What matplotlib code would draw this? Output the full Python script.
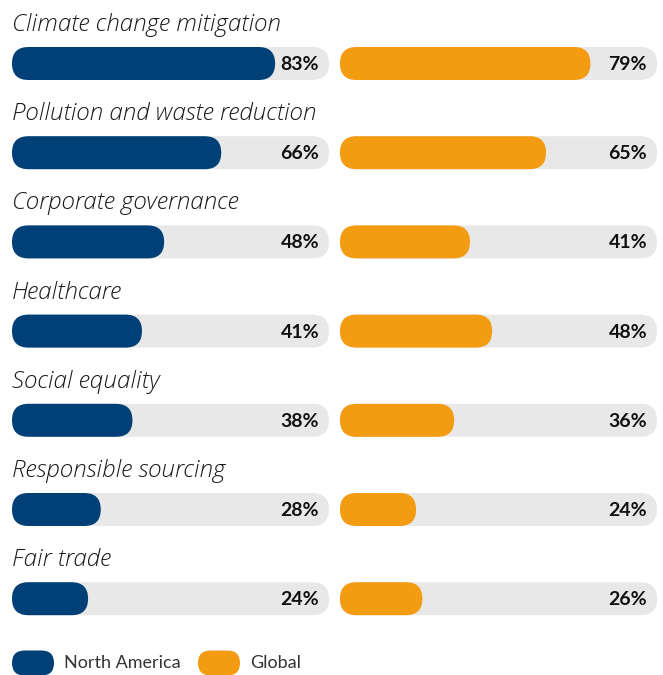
import matplotlib
matplotlib.use("Agg")
import matplotlib.pyplot as plt
from matplotlib.patches import FancyBboxPatch

categories = ["Climate change mitigation", "Pollution and waste reduction",
              "Corporate governance", "Healthcare", "Social equality",
              "Responsible sourcing", "Fair trade"]
north_america = [83, 66, 48, 41, 38, 28, 24]
global_vals = [79, 65, 41, 48, 36, 24, 26]
series_names = ["North America", "Global"]
colors = ["#004077", "#F39C12"]
track_color = "#E8E8E8"

W, H = 663, 675
fig = plt.figure(figsize=(W / 100, H / 100), dpi=100)
ax = fig.add_axes([0, 0, 1, 1])
ax.set_xlim(0, W)
ax.set_ylim(H, 0)
ax.axis("off")

track_x = [12, 340]
track_w = 317
bar_h = 33
row0 = 63.5
step = 89.2

def pill(x, y, w, h, color):
    r = h / 2
    p = FancyBboxPatch((x, y - h / 2), w, h,
                       boxstyle=f"round,pad=0,rounding_size={r}",
                       fc=color, ec="none")
    ax.add_patch(p)

for i, cat in enumerate(categories):
    yc = row0 + i * step
    ax.text(12, yc - 38.5, cat, fontsize=17.5, family="Open Sans", style="italic",
            weight=300, color="#1a1a1a", va="center", ha="left")
    for j, vals in enumerate([north_america, global_vals]):
        x0 = track_x[j]
        pill(x0, yc, track_w, bar_h, track_color)
        pill(x0, yc, track_w * vals[i] / 100, bar_h, colors[j])
        ax.text(x0 + track_w - 10, yc + 1, f"{vals[i]}%", fontsize=14,
                family="Lato", weight="bold", color="#111111",
                ha="right", va="center")

# legend
leg_x = [12, 198]
leg_y = 663
for j, name in enumerate(series_names):
    pill(leg_x[j], leg_y, 42, 25, colors[j])
    ax.text(leg_x[j] + 52, leg_y, name, fontsize=13, family="Lato",
            color="#333333", ha="left", va="center")

fig.savefig("out.png", dpi=100)
